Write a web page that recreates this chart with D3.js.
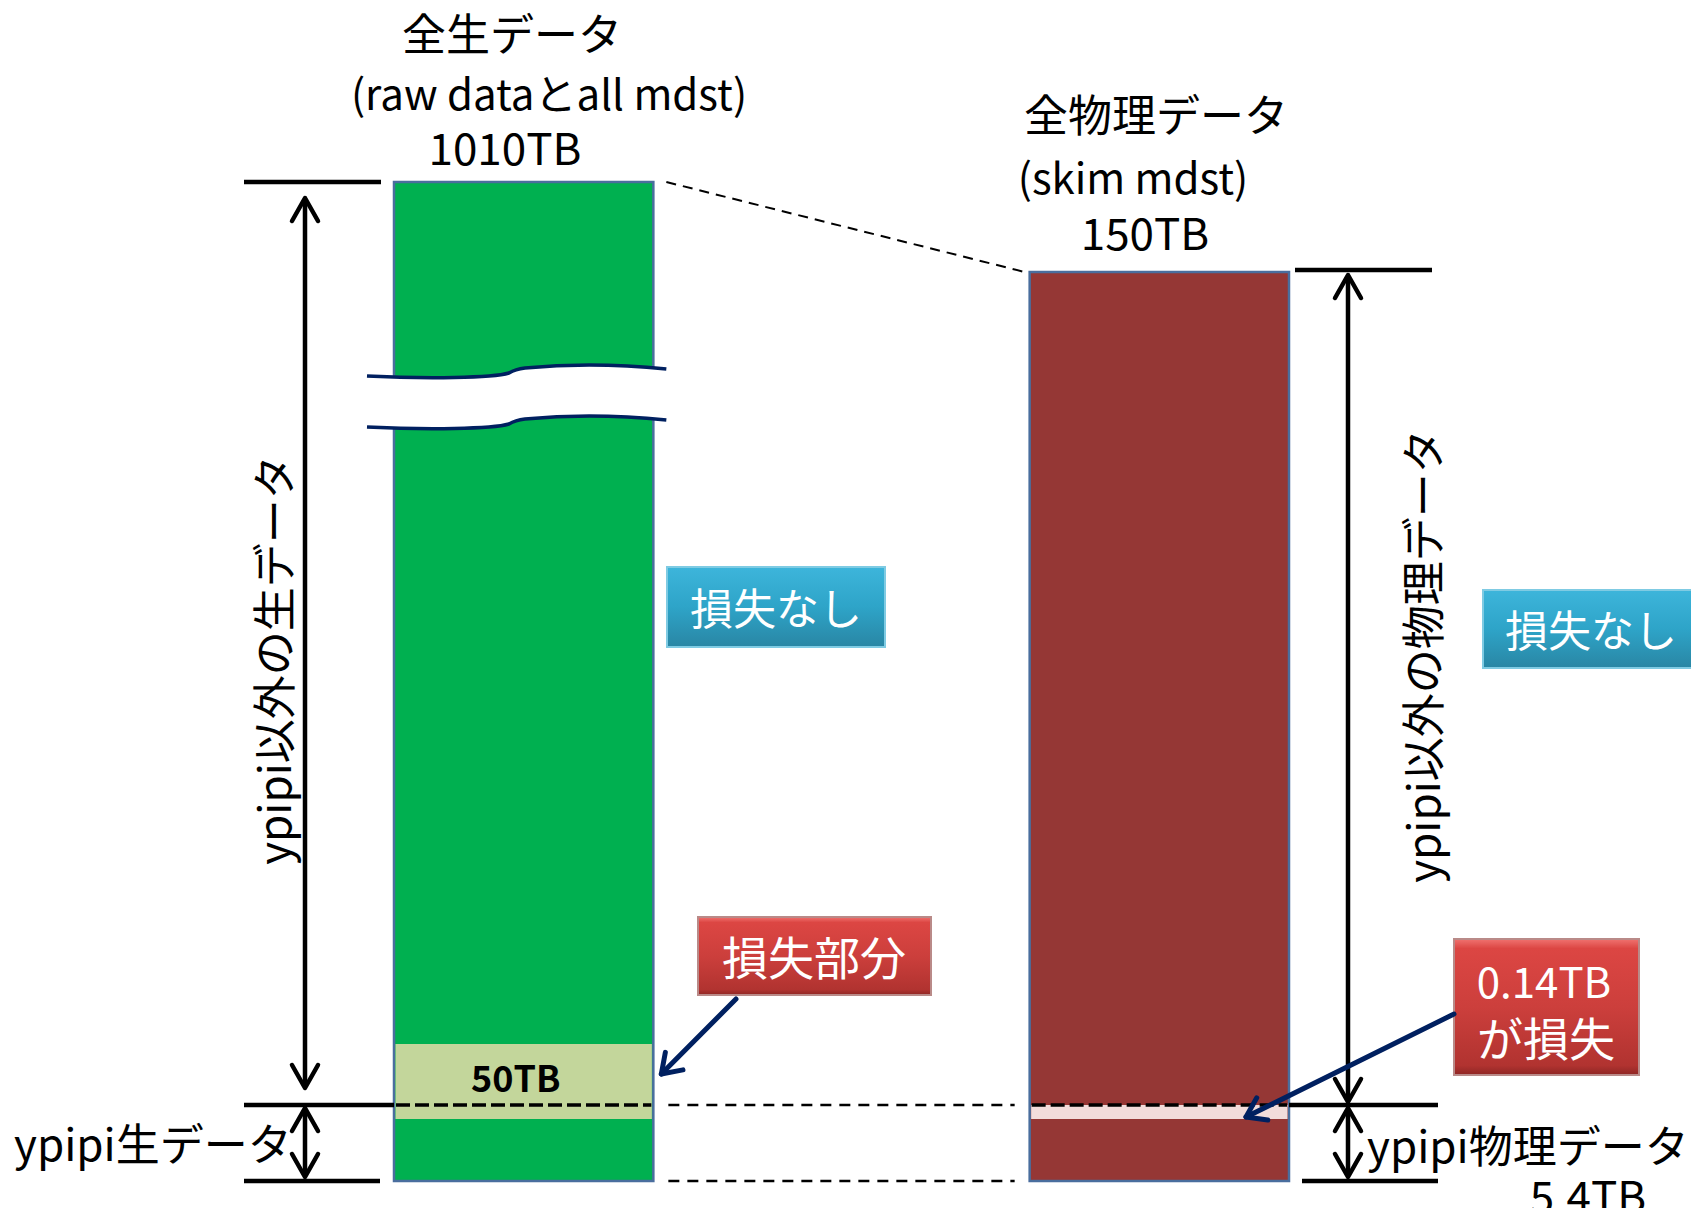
<!DOCTYPE html>
<html>
<head>
<meta charset="utf-8">
<script src="https://cdn.jsdelivr.net/npm/d3@7"></script>
<style>
  html, body { margin: 0; padding: 0; background: #fff; }
  text { font-family: "Noto Sans CJK JP", "Noto Sans", sans-serif; }
</style>
</head>
<body>
<svg id="chart" width="1691" height="1208"></svg>
<script>
// ---- data ----
const columns = ["全生データ", "全物理データ"];
const columnNotes = ["(raw dataとall mdst)", "(skim mdst)"];
const totalTB = [1010, 150];
const totalLabels = ["1010TB", "150TB"];
const ypipiLevelTB = 5.4;              // ypipi physics data, shared reference level
const lostTB = [50, 0.14];
const lostLabels = ["50TB", "0.14TB"];
const sideLabels = ["ypipi以外の生データ", "ypipi以外の物理データ"];
const baseLabels = ["ypipi生データ", "ypipi物理データ"];
const baseValueLabel = "5.4TB";
const lossCallouts = [["損失部分"], ["0.14TB", "が損失"]];
const safeCallout = "損失なし";

// ---- scales ----
// schematic, piecewise level scale (the raw column is drawn with an axis break)
const y = d3.scaleLinear()
  .domain([0, ypipiLevelTB, totalTB[1], totalTB[0]])
  .range([1181, 1105, 272, 182]);
const x = d3.scaleBand().domain(columns).range([394, 1289]).paddingInner(0.592).paddingOuter(0);
// thickness of the highlighted loss bands
const lossH = d3.scaleLog().domain([d3.min(lostTB), d3.max(lostTB)]).range([14, 75]);

const barColors = ["#00b050", "#953735"];
const lossColors = ["#c3d69b", "#f2dcdb"];
const navy = "#002060";

const svg = d3.select("#chart");
const defs = svg.append("defs");

function vGrad(id, stops) {
  const g = defs.append("linearGradient").attr("id", id)
    .attr("x1", 0).attr("y1", 0).attr("x2", 0).attr("y2", 1);
  stops.forEach(([o, c]) => g.append("stop").attr("offset", o).attr("stop-color", c));
}
vGrad("gBlue", [[0, "#3db5db"], [0.5, "#2ea4c8"], [1, "#2986a4"]]);
vGrad("gRed", [[0, "#f07370"], [0.07, "#dc4643"], [0.5, "#cc3f3c"], [0.93, "#b13330"], [1, "#8e2624"]]);

const bw = x.bandwidth();

// ---- bars ----
svg.append("g").selectAll("rect").data(columns).join("rect")
  .attr("x", d => x(d))
  .attr("y", (d, i) => y(totalTB[i]))
  .attr("width", bw)
  .attr("height", (d, i) => y(0) - y(totalTB[i]))
  .attr("fill", (d, i) => barColors[i])
  .attr("stroke", "#4a6e9e")
  .attr("stroke-width", 2.5);

// ---- loss bands ----
const bandBottom = y(ypipiLevelTB) + lossH(d3.min(lostTB));
svg.append("g").selectAll("rect").data(columns).join("rect")
  .attr("x", d => x(d) + 1.5)
  .attr("y", (d, i) => bandBottom - lossH(lostTB[i]))
  .attr("width", bw - 3)
  .attr("height", (d, i) => lossH(lostTB[i]))
  .attr("fill", (d, i) => lossColors[i]);

svg.append("text")
  .attr("x", x(columns[0]) + bw / 2 - 8)
  .attr("y", bandBottom - lossH(lostTB[0]) / 2 - 6)
  .attr("text-anchor", "middle").attr("dominant-baseline", "central")
  .attr("font-size", 36).attr("font-weight", "bold").attr("fill", "#000")
  .text(lostLabels[0]);

// ---- axis break on the raw column ----
const x0 = x(columns[0]) - 27, x1 = x(columns[0]) + bw + 13;
function wave(dy) {
  return `M${x0},${376 + dy} C${x0 + 60},${379 + dy} ${x0 + 125},${378 + dy} ${x0 + 142},${373 + dy}` +
         ` C${x0 + 147},${370 + dy} ${x0 + 150},${369 + dy} ${x0 + 158},${368 + dy}` +
         ` C${x0 + 200},${364 + dy} ${x0 + 250},${364 + dy} ${x1},${369 + dy}`;
}
svg.append("path")
  .attr("d", wave(0) + ` L${x1},${369 + 51} ` +
        `C${x0 + 250},${364 + 51} ${x0 + 200},${364 + 51} ${x0 + 158},${368 + 51}` +
        ` C${x0 + 150},${369 + 51} ${x0 + 147},${370 + 51} ${x0 + 142},${373 + 51}` +
        ` C${x0 + 125},${378 + 51} ${x0 + 60},${379 + 51} ${x0},${376 + 51} Z`)
  .attr("fill", "#fff");
[0, 51].forEach(dy => svg.append("path").attr("d", wave(dy))
  .attr("fill", "none").attr("stroke", navy).attr("stroke-width", 3.5));

// ---- reference lines ----
const yTopRaw = y(totalTB[0]), yTopPhys = y(totalTB[1]);
const yLevel = y(ypipiLevelTB), yBase = y(0);
const rawL = x(columns[0]), rawR = rawL + bw;
const phyL = x(columns[1]), phyR = phyL + bw;

const solid = svg.append("g").attr("stroke", "#000").attr("stroke-width", 4.5);
[[244, 381, yTopRaw], [244, rawL, yLevel], [244, 380, yBase],
 [1295, 1432, yTopPhys - 2], [phyR, 1438, yLevel], [1302, 1438, yBase]]
  .forEach(([a, b, yy]) => solid.append("line").attr("x1", a).attr("x2", b).attr("y1", yy).attr("y2", yy));

const dashed = svg.append("g").attr("stroke", "#000").attr("fill", "none");
// across the bars
[[rawL + 2, rawR - 2], [phyL + 2, phyR - 2]].forEach(([a, b]) =>
  dashed.append("line").attr("x1", a).attr("x2", b).attr("y1", yLevel).attr("y2", yLevel)
    .attr("stroke-width", 3.5).attr("stroke-dasharray", "14,5"));
// between the bars
[yLevel, yBase].forEach(yy =>
  dashed.append("line").attr("x1", rawR + 15).attr("x2", phyL - 15).attr("y1", yy).attr("y2", yy)
    .attr("stroke-width", 2.5).attr("stroke-dasharray", "11,8"));
dashed.append("line").attr("x1", rawR + 13).attr("y1", yTopRaw).attr("x2", phyL - 5).attr("y2", yTopPhys)
  .attr("stroke-width", 2).attr("stroke-dasharray", "10,7");

// ---- dimension arrows ----
function chevron(g, cx, tip, dir) {
  g.append("path")
    .attr("d", `M${cx - 13},${tip + dir * 23} L${cx},${tip} L${cx + 13},${tip + dir * 23}`)
    .attr("fill", "none");
}
function dimArrow(cx, top, bottom) {
  const g = svg.append("g").attr("stroke", "#000").attr("stroke-width", 4.5)
    .attr("stroke-linecap", "round").attr("stroke-linejoin", "round");
  g.append("line").attr("x1", cx).attr("x2", cx).attr("y1", top + 2).attr("y2", bottom - 2);
  chevron(g, cx, top, 1);
  chevron(g, cx, bottom, -1);
}
dimArrow(305, yTopRaw + 16, yLevel - 17);
dimArrow(305, yLevel + 3, yBase - 4);
dimArrow(1348, yTopPhys + 3, yLevel - 3);
dimArrow(1348, yLevel + 3, yBase - 4);

// ---- column titles ----
const titleX = [512, 1156], noteX = [549, 1133], totX = [505, 1145];
const titleY = [32, 113], noteY = [91, 175], totY = [146, 231];
columns.forEach((c, i) => {
  svg.append("text").attr("x", titleX[i]).attr("y", titleY[i])
    .attr("text-anchor", "middle").attr("dominant-baseline", "central")
    .attr("font-size", 44).text(c);
  svg.append("text").attr("x", noteX[i]).attr("y", noteY[i])
    .attr("text-anchor", "middle").attr("dominant-baseline", "central")
    .attr("font-size", 42).text(columnNotes[i]);
  svg.append("text").attr("x", totX[i]).attr("y", totY[i])
    .attr("text-anchor", "middle").attr("dominant-baseline", "central")
    .attr("font-size", 44).text(totalLabels[i]);
});

// ---- side labels ----
[[272, 660], [1421, 656]].forEach(([cx, cy], i) =>
  svg.append("text").attr("transform", `translate(${cx},${cy}) rotate(-90)`)
    .attr("text-anchor", "middle").attr("dominant-baseline", "central")
    .attr("font-size", 44).text(sideLabels[i]));

svg.append("text").attr("x", 14).attr("y", 1142).attr("dominant-baseline", "central")
  .attr("font-size", 44).text(baseLabels[0]);
svg.append("text").attr("x", 1367).attr("y", 1144).attr("dominant-baseline", "central")
  .attr("font-size", 44).text(baseLabels[1]);
svg.append("text").attr("x", 1588).attr("y", 1194).attr("text-anchor", "middle").attr("dominant-baseline", "central")
  .attr("font-size", 44).text(baseValueLabel);

// ---- callout boxes ----
function box(bx, by, w, h, fill, stroke) {
  svg.append("rect").attr("x", bx).attr("y", by).attr("width", w).attr("height", h)
    .attr("fill", fill).attr("stroke", stroke).attr("stroke-width", 2);
}
function boxText(cx, cy, t, size) {
  svg.append("text").attr("x", cx).attr("y", cy).attr("text-anchor", "middle")
    .attr("dominant-baseline", "central").attr("font-size", size).attr("fill", "#fff").text(t);
}
box(667, 567, 218, 80, "url(#gBlue)", "#7fcbe3");
boxText(776, 606, safeCallout, 43);
box(1483, 590, 230, 78, "url(#gBlue)", "#7fcbe3");
boxText(1591, 628, safeCallout, 43);

box(698, 917, 233, 78, "url(#gRed)", "#b98a88");
boxText(814, 955, lossCallouts[0][0], 46);
box(1454, 939, 185, 136, "url(#gRed)", "#b98a88");
boxText(1544, 979, lossCallouts[1][0], 42);
boxText(1546, 1036, lossCallouts[1][1], 46);

// ---- pointer arrows ----
function pointer(xa, ya, xb, yb) {
  const g = svg.append("g").attr("stroke", navy).attr("stroke-width", 5)
    .attr("fill", "none").attr("stroke-linecap", "round").attr("stroke-linejoin", "round");
  g.append("line").attr("x1", xa).attr("y1", ya).attr("x2", xb).attr("y2", yb);
  const ang = Math.atan2(ya - yb, xa - xb), L = 22, s = 0.6;
  g.append("path").attr("d",
    `M${xb + L * Math.cos(ang - s)},${yb + L * Math.sin(ang - s)} L${xb},${yb} ` +
    `L${xb + L * Math.cos(ang + s)},${yb + L * Math.sin(ang + s)}`);
}
pointer(736, 999, rawR + 8, bandBottom - 45);
pointer(1454, 1014, phyR - 43, bandBottom - 2);
</script>
</body>
</html>
